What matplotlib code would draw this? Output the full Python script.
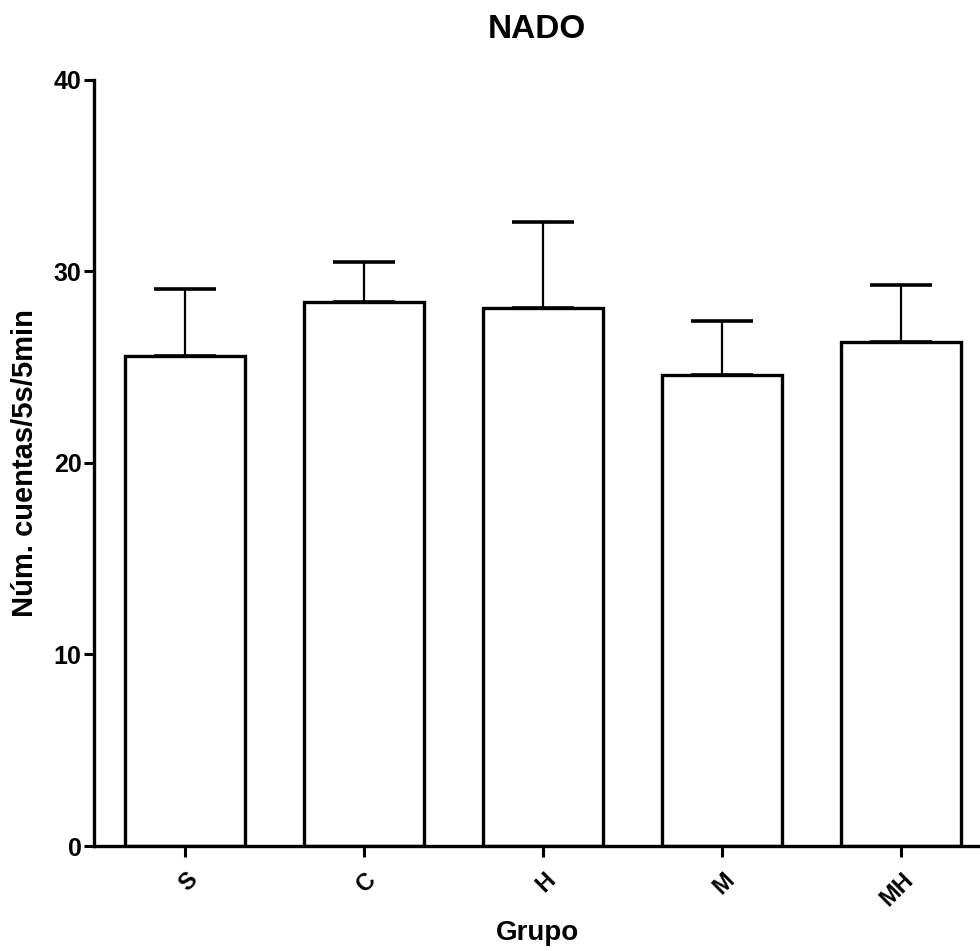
import matplotlib
matplotlib.use("Agg")
import matplotlib.pyplot as plt

# Datos (media y error)
grupos = ["S", "C", "H", "M", "MH"]
medias = [25.6, 28.4, 28.1, 24.6, 26.3]
errores = [3.5, 2.1, 4.5, 2.8, 3.0]

plt.rcParams["font.family"] = ["Liberation Sans", "DejaVu Sans"]
plt.rcParams["font.weight"] = "bold"

fig = plt.figure(figsize=(9.8, 9.51), dpi=100)
ax = fig.add_axes([0.096, 0.1104, 0.904, 0.8056])

x = list(range(len(grupos)))
ax.bar(x, medias, width=0.67, color="white", edgecolor="black", linewidth=2.4, zorder=2)
ax.errorbar(x, medias, yerr=[[0] * len(errores), errores], fmt="none",
            ecolor="black", elinewidth=1.6, capsize=22, capthick=2.6, zorder=1)

ax.set_xlim(-0.51, 4.44)
ax.set_ylim(0, 40)
ax.set_yticks([0, 10, 20, 30, 40])
ax.set_xticks(x)
ax.set_xticklabels(grupos, rotation=45, ha="right", rotation_mode="anchor", fontsize=17, fontweight="bold")
ax.tick_params(axis="y", labelsize=18, width=2.2, length=7, pad=2)
ax.tick_params(axis="x", width=2.2, length=8, pad=8)
for lab in ax.get_yticklabels():
    lab.set_fontweight("bold")

ax.spines["top"].set_visible(False)
ax.spines["right"].set_visible(False)
ax.spines["left"].set_linewidth(2.4)
ax.spines["bottom"].set_linewidth(2.4)

ax.set_xlabel("Grupo", fontsize=20, fontweight="bold")
ax.set_ylabel("Núm. cuentas/5s/5min", fontsize=21, fontweight="bold")
ax.xaxis.set_label_coords(0.5, -0.097)
ax.yaxis.set_label_coords(-0.062, 0.5)
ax.set_title("NADO", fontsize=24, fontweight="bold", pad=30)

plt.savefig("out.png", dpi=100)
